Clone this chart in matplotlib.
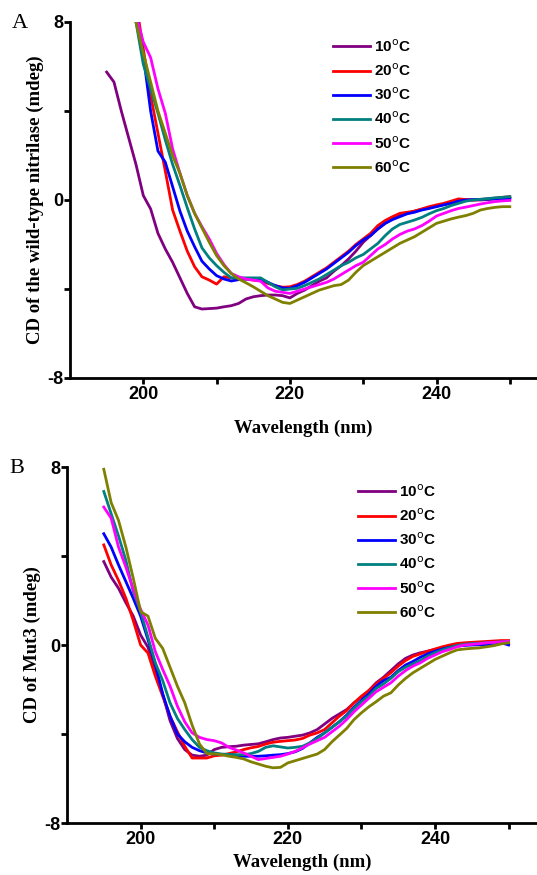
import numpy as np
import matplotlib.pyplot as plt

plt.rcParams['axes.unicode_minus'] = False

# wavelength grid (nm)
wl = np.arange(195, 251)

labels = ['10$^{\\rm o}$C', '20$^{\\rm o}$C', '30$^{\\rm o}$C',
          '40$^{\\rm o}$C', '50$^{\\rm o}$C', '60$^{\\rm o}$C']
colors = ['#800080', '#FF0000', '#0000FF', '#008080', '#FF00FF', '#808000']

# panel A: wild-type nitrilase
wt_10 = [5.75, 5.3, 4.0, 2.8, 1.6, 0.2, -0.4, -1.5, -2.2, -2.8, -3.5, -4.2, -4.8, -4.9,
         -4.88, -4.86, -4.8, -4.75, -4.65, -4.45, -4.35, -4.3, -4.27, -4.27, -4.3, -4.4,
         -4.2, -4.05, -3.85, -3.65, -3.5, -3.2, -2.95, -2.65, -2.3, -1.9, -1.6, -1.3,
         -1.05, -0.85, -0.7, -0.6, -0.5, -0.42, -0.35, -0.28, -0.2, -0.12, -0.05, 0.0,
         0.0, 0.0, 0.02, 0.05, 0.08, 0.1]
wt_20 = [14, 12.8, 11.5, 10.2, 8.9, 6.8, 4.7, 3.0, 1.3, -0.45, -1.4, -2.3, -3.0, -3.45,
         -3.6, -3.78, -3.45, -3.5, -3.55, -3.55, -3.6, -3.62, -3.75, -3.85, -3.92, -3.9,
         -3.8, -3.65, -3.45, -3.25, -3.05, -2.8, -2.55, -2.3, -2.0, -1.75, -1.5, -1.15,
         -0.92, -0.75, -0.6, -0.55, -0.5, -0.4, -0.3, -0.22, -0.15, -0.05, 0.05, 0.02,
         0.0, 0.02, 0.05, 0.08, 0.12, 0.15]
wt_30 = [15.5, 14, 12.3, 10.5, 8.6, 6.5, 4.0, 2.2, 1.7, 0.6, -0.5, -1.4, -2.1, -2.75,
         -3.1, -3.4, -3.55, -3.64, -3.58, -3.55, -3.55, -3.56, -3.7, -3.85, -3.95, -3.97,
         -3.85, -3.7, -3.5, -3.3, -3.1, -2.85, -2.6, -2.35, -2.05, -1.8, -1.6, -1.3,
         -1.05, -0.88, -0.75, -0.62, -0.55, -0.45, -0.38, -0.3, -0.22, -0.15, -0.05, 0.0,
         0.02, 0.03, 0.04, 0.05, 0.06, 0.07]
wt_40 = [14, 12.7, 11.3, 10, 8.0, 6.1, 5.0, 3.9, 2.7, 1.6, 0.65, -0.35, -1.3, -2.15,
         -2.6, -2.95, -3.25, -3.5, -3.5, -3.5, -3.5, -3.5, -3.7, -3.9, -4.04, -4.0,
         -3.97, -3.85, -3.7, -3.55, -3.35, -3.15, -2.95, -2.8, -2.6, -2.45, -2.2, -1.95,
         -1.6, -1.3, -1.1, -1.0, -0.9, -0.78, -0.62, -0.48, -0.38, -0.25, -0.15, -0.05,
         0.0, 0.03, 0.06, 0.1, 0.12, 0.15]
wt_50 = [13, 12, 10.8, 9.6, 8.3, 7.1, 6.4, 5.0, 3.9, 2.3, 1.2, 0.2, -0.6, -1.2,
         -1.75, -2.4, -2.9, -3.3, -3.45, -3.55, -3.6, -3.65, -3.95, -4.1, -4.15, -4.2,
         -4.1, -4.0, -3.9, -3.8, -3.7, -3.55, -3.35, -3.15, -2.95, -2.8, -2.5, -2.2,
         -2.0, -1.75, -1.55, -1.4, -1.3, -1.15, -0.95, -0.72, -0.6, -0.48, -0.38, -0.32,
         -0.25, -0.18, -0.12, -0.07, -0.04, -0.02]
wt_60 = [14, 12.7, 11.3, 9.8, 8.0, 6.6, 5.3, 4.0, 3.0, 2.0, 1.2, 0.2, -0.6, -1.25,
         -1.9, -2.5, -2.95, -3.3, -3.55, -3.72, -3.9, -4.1, -4.3, -4.45, -4.6, -4.65,
         -4.5, -4.35, -4.2, -4.05, -3.95, -3.85, -3.8, -3.6, -3.25, -2.95, -2.75, -2.55,
         -2.35, -2.15, -1.95, -1.8, -1.65, -1.45, -1.25, -1.05, -0.95, -0.85, -0.77, -0.7,
         -0.6, -0.45, -0.38, -0.33, -0.3, -0.3]

# panel B: Mut3
mut_10 = [3.75, 3.05, 2.55, 1.9, 1.3, 0.45, -0.1, -1.1, -2.2, -3.4, -4.2, -4.7, -4.95, -5.0,
          -4.95, -4.7, -4.6, -4.57, -4.55, -4.5, -4.47, -4.44, -4.35, -4.25, -4.18, -4.15,
          -4.1, -4.05, -3.95, -3.8, -3.55, -3.3, -3.1, -2.9, -2.6, -2.35, -2.05, -1.7,
          -1.45, -1.15, -0.85, -0.6, -0.45, -0.35, -0.28, -0.2, -0.12, -0.05, 0.0, 0.02,
          0.05, 0.09, 0.1, 0.12, 0.14, 0.16]
mut_20 = [4.5, 3.6, 2.9, 2.1, 1.1, 0.0, -0.36, -1.4, -2.3, -3.2, -3.9, -4.55, -5.08, -5.08,
          -5.08, -4.98, -4.95, -4.88, -4.8, -4.7, -4.62, -4.56, -4.45, -4.37, -4.33, -4.3,
          -4.27, -4.2, -4.05, -3.95, -3.8, -3.5, -3.2, -2.95, -2.6, -2.3, -2.05, -1.75,
          -1.5, -1.25, -0.95, -0.7, -0.51, -0.4, -0.28, -0.18, -0.08, 0.0, 0.07, 0.1,
          0.12, 0.14, 0.16, 0.18, 0.2, 0.2]
mut_30 = [5.0, 4.4, 3.6, 2.85, 2.1, 1.3, 0.24, -0.85, -2.2, -3.2, -4.0, -4.35, -4.6, -4.75,
          -4.85, -4.9, -4.93, -4.93, -4.96, -5.0, -5.0, -5.0, -4.98, -4.95, -4.93, -4.88,
          -4.8, -4.65, -4.4, -4.15, -3.95, -3.7, -3.45, -3.15, -2.8, -2.5, -2.2, -1.85,
          -1.6, -1.45, -1.15, -0.9, -0.74, -0.55, -0.4, -0.28, -0.18, -0.1, -0.05, -0.02,
          0.0, 0.01, 0.0, 0.08, 0.1, 0.0]
mut_40 = [6.9, 5.9, 4.9, 3.8, 2.4, 1.5, 0.35, -0.8, -1.6, -2.6, -3.3, -3.8, -4.25, -4.6,
          -4.75, -4.85, -4.9, -4.92, -4.93, -4.93, -4.88, -4.78, -4.6, -4.53, -4.58, -4.63,
          -4.6, -4.55, -4.4, -4.2, -3.95, -3.7, -3.45, -3.2, -2.85, -2.55, -2.3, -1.95,
          -1.75, -1.5, -1.2, -1.0, -0.85, -0.7, -0.5, -0.35, -0.22, -0.12, -0.02, 0.03,
          0.06, 0.08, 0.1, 0.12, 0.14, 0.16]
mut_50 = [6.2, 5.7, 4.4, 3.5, 2.5, 1.6, 0.9, -0.3, -1.1, -1.85, -2.75, -3.45, -3.95, -4.15,
          -4.25, -4.3, -4.4, -4.6, -4.72, -4.85, -5.0, -5.15, -5.1, -5.05, -5.0, -4.9,
          -4.78, -4.62, -4.45, -4.3, -4.15, -3.9, -3.65, -3.35, -3.0, -2.7, -2.4, -2.1,
          -1.9, -1.7, -1.4, -1.15, -0.95, -0.8, -0.6, -0.45, -0.3, -0.2, -0.08, 0.0,
          0.03, 0.06, 0.1, 0.12, 0.14, 0.16]
mut_60 = [7.9, 6.4, 5.6, 4.4, 3.0, 1.5, 1.3, 0.3, -0.15, -1.0, -1.85, -2.6, -3.6, -4.45,
          -4.88, -4.9, -4.93, -5.0, -5.05, -5.12, -5.25, -5.35, -5.45, -5.52, -5.5, -5.3,
          -5.2, -5.1, -5.0, -4.9, -4.7, -4.35, -4.05, -3.75, -3.35, -3.05, -2.78, -2.55,
          -2.3, -2.15, -1.8, -1.5, -1.25, -1.05, -0.85, -0.65, -0.5, -0.35, -0.22, -0.18,
          -0.15, -0.13, -0.08, -0.03, 0.05, 0.1]

wt = [wt_10, wt_20, wt_30, wt_40, wt_50, wt_60]
mut = [mut_10, mut_20, mut_30, mut_40, mut_50, mut_60]

W, H = 537, 875
fig = plt.figure(figsize=(W / 100, H / 100), dpi=100)

tickfont = {'family': 'Liberation Sans', 'weight': 'bold', 'size': 13}
labfont = {'family': 'Liberation Serif', 'weight': 'bold', 'size': 13.5}


def panel(rect, series, xmax, ylab, letter, leg_anchor, xpad):
    ax = fig.add_axes(rect)
    for y, c, lab in zip(series, colors, labels):
        ax.plot(wl, y, color=c, lw=2.0, label=lab)
    ax.set_xlim(190, xmax)
    ax.set_ylim(-8, 8)
    ax.set_xticks([200, 220, 240])
    ax.set_xticks([210, 230, 250], minor=True)
    ax.set_yticks([-8, 0, 8])
    ax.set_yticks([-4, 4], minor=True)
    ax.spines['top'].set_visible(False)
    ax.spines['right'].set_visible(False)
    for s in ['left', 'bottom']:
        ax.spines[s].set_linewidth(2)
    ax.tick_params(which='both', direction='out', width=2, length=4)
    ax.tick_params(axis='x', pad=2)
    ax.tick_params(axis='y', pad=1)
    for t in ax.get_xticklabels() + ax.get_yticklabels():
        t.set_fontproperties(tickfont)
    ax.set_xlabel('Wavelength (nm)', fontdict=labfont, labelpad=xpad)
    ax.set_ylabel(ylab, fontdict=labfont, labelpad=2)
    ax.legend(loc='upper left', bbox_to_anchor=leg_anchor, frameon=False,
              handlelength=2.4, handletextpad=0.3, labelspacing=0.5,
              borderpad=0, borderaxespad=0,
              prop={'family': 'Liberation Sans', 'weight': 'bold', 'size': 11})
    fig.text(rect[0] - 0.108, rect[1] + rect[3] - 0.002, letter,
             family='Liberation Serif', size=16, va='center', ha='left')
    return ax


hA = 356 / H
panel([70 / W, (H - 378) / H, (W - 70) / W, hA], wt,
      190 + (W - 70) / 7.33, 'CD of the wild-type nitrilase (mdeg)', 'A', (0.563, 0.955), 12)
panel([67 / W, (H - 823) / H, (W - 67) / W, hA], mut,
      190 + (W - 67) / 7.36, 'CD of Mut3 (mdeg)', 'B', (0.619, 0.955), 4)

plt.savefig('out.png', dpi=100)
